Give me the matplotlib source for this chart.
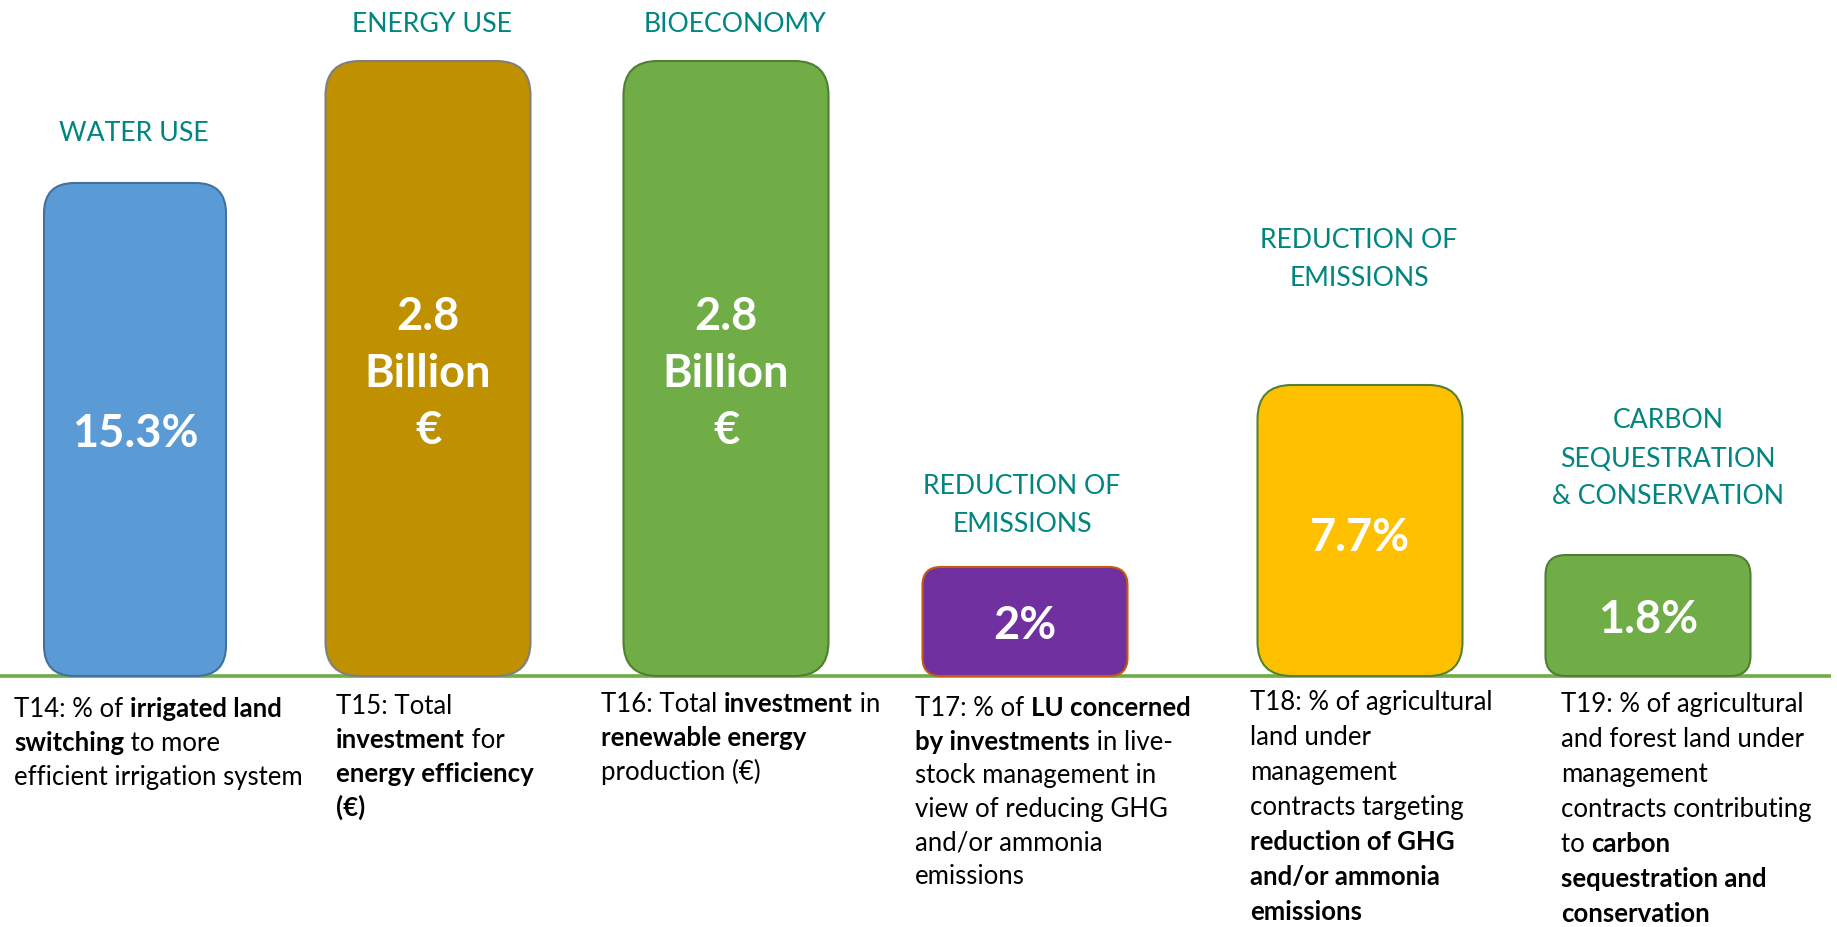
import matplotlib
matplotlib.use("Agg")
import matplotlib.pyplot as plt
from matplotlib.patches import FancyBboxPatch

# canvas is laid out in pixels; y = 0 is the green ground line
W, H = 1837, 927
BASE = 676

categories = ["WATER USE", "ENERGY USE", "BIOECONOMY", "REDUCTION OF\nEMISSIONS",
              "REDUCTION OF\nEMISSIONS", "CARBON\nSEQUESTRATION\n& CONSERVATION"]
value_labels = ["15.3%", "2.8\nBillion\n€", "2.8\nBillion\n€", "2%", "7.7%", "1.8%"]
bar_heights = [493, 615, 615, 109, 291, 121]

# ** marks bold parts
descriptions = [
    ["T14: % of **irrigated land**", "**switching** to more", "efficient irrigation system"],
    ["T15: Total", "**investment** for", "**energy efficiency**", "**(€)**"],
    ["T16: Total **investment** in", "**renewable energy**", "production (€)"],
    ["T17: % of **LU concerned**", "**by investments** in live-", "stock management in",
     "view of reducing GHG", "and/or ammonia", "emissions"],
    ["T18: % of agricultural", "land under", "management", "contracts targeting",
     "**reduction of GHG**", "**and/or ammonia**", "**emissions**"],
    ["T19: % of agricultural", "and forest land under", "management",
     "contracts contributing", "to **carbon**", "**sequestration and**", "**conservation**"],
]

bar_colors = ["#5B9BD5", "#BF9000", "#70AD47", "#7030A0", "#FFC000", "#70AD47"]
edge_colors = ["#41719C", "#7F7F7F", "#507E32", "#C55A11", "#548235", "#507E32"]
bar_x = [135, 428, 726, 1025, 1360, 1648]
bar_w = [182, 205, 205, 205, 205, 205]
title_x = [134, 432, 735, 1022, 1359, 1668]
title_y = [[133], [24], [24], [486, 524], [240, 278], [420, 459, 496]]
value_y = [434, 374, 374, 626, 538, 620]
desc_x = [14, 336, 601, 915, 1250, 1561]
desc_y0 = [709, 706, 704, 708, 702, 704]
desc_step = [34, 34, 34, 33.5, 35, 35]

TEAL = "#00857F"
FONT = "Lato"

fig = plt.figure(figsize=(W / 100, H / 100), dpi=100)
ax = fig.add_axes([0, 0, 1, 1])
ax.set_xlim(0, W)
ax.set_ylim(BASE - H, BASE)
ax.axis("off")

ax.plot([0, 1831], [0, 0], color="#70AD47", lw=2.6, zorder=1, solid_capstyle="butt")

for i in range(len(categories)):
    w, h = bar_w[i], bar_heights[i]
    r = 0.1667 * min(w, h)
    box = FancyBboxPatch((bar_x[i] - w / 2, 0), w, h,
                         boxstyle=f"round,pad=0,rounding_size={r}",
                         facecolor=bar_colors[i], edgecolor=edge_colors[i],
                         lw=1.5, zorder=2)
    ax.add_patch(box)

    for line, yy in zip(categories[i].split("\n"), title_y[i]):
        ax.text(title_x[i], BASE - yy, line, color=TEAL, fontsize=19.2,
                family=FONT, ha="center", va="center", zorder=3)

    vlines = value_labels[i].split("\n")
    step = 57
    top = value_y[i] - step * (len(vlines) - 1) / 2
    for k, line in enumerate(vlines):
        ax.text(bar_x[i], BASE - (top + k * step), line, color="white",
                fontsize=32.5, fontweight="bold", family=FONT,
                ha="center", va="center", zorder=3)

# descriptions: bold and regular runs on one line
fig.canvas.draw()
rend = fig.canvas.get_renderer()
DSIZE = 18.5


def width(s, bold):
    wt = "bold" if bold else "normal"
    t1 = ax.text(0, 0, "x" + s + "x", fontsize=DSIZE, family=FONT, fontweight=wt)
    t2 = ax.text(0, 0, "xx", fontsize=DSIZE, family=FONT, fontweight=wt)
    wdt = t1.get_window_extent(rend).width - t2.get_window_extent(rend).width
    t1.remove()
    t2.remove()
    return wdt


for i, lines in enumerate(descriptions):
    for j, line in enumerate(lines):
        x = desc_x[i]
        y = BASE - (desc_y0[i] + j * desc_step[i]) - 8
        for k, part in enumerate(line.split("**")):
            if not part:
                continue
            bold = k % 2 == 1
            ax.text(x, y, part, fontsize=DSIZE, family=FONT, color="black",
                    fontweight="bold" if bold else "normal",
                    ha="left", va="baseline")
            x += width(part, bold)

fig.savefig("out.png", dpi=100)
